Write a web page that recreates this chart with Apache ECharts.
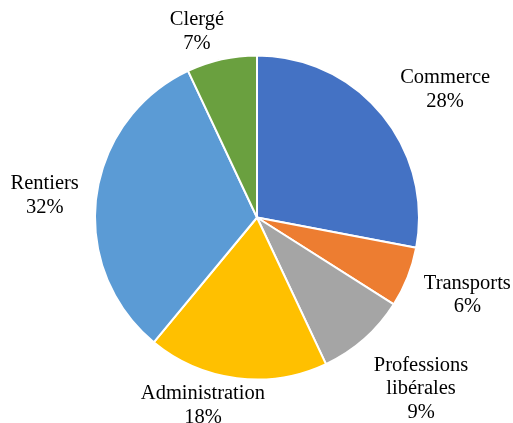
<!DOCTYPE html>
<html>
<head>
<meta charset="utf-8">
<script src="https://cdn.jsdelivr.net/npm/echarts@6/dist/echarts.min.js"></script>
<style>html,body{margin:0;padding:0;background:#fff}#c{width:513px;height:423px}</style>
</head>
<body>
<div id="c"></div>
<script>
const categories = ['Commerce', 'Transports', 'Professions\nlibérales', 'Administration', 'Rentiers', 'Clergé'];
const values = [28, 6, 9, 18, 32, 7];
const colors = ['#4472C4', '#ED7D31', '#A5A5A5', '#FFC000', '#5B9BD5', '#6AA03F'];
const labelDist = [64, 61, 74, 30, 51, 31];
const labelShift = [[14, 16], [3, -4.5], [8, -5.5], [-30, -2.5], [-1, 5], [-18, 2.5]];

const chart = echarts.init(document.getElementById('c'), null, {renderer: 'canvas'});
chart.setOption({
  animation: false,
  series: [{
    type: 'pie',
    center: [257, 217.5],
    radius: [0, 162],
    startAngle: 90,
    clockwise: true,
    avoidLabelOverlap: false,
    itemStyle: {borderColor: '#fff', borderWidth: 2},
    label: {
      show: true,
      position: 'outside',
      distanceToLabelLine: 0,
      formatter: p => p.name + '\n' + p.value + '%',
      fontFamily: '"Liberation Serif", "Times New Roman", serif',
      fontSize: 20.5,
      lineHeight: 23.5,
      color: '#000'
    },
    labelLine: {show: false, length: 58, length2: 0},
    labelLayout: function (p) {
      return {align: 'center', dx: labelShift[p.dataIndex][0], dy: labelShift[p.dataIndex][1]};
    },
    data: categories.map((c, i) => ({
      name: c, value: values[i],
      itemStyle: {color: colors[i]},
      labelLine: {length: labelDist[i], length2: 0}
    }))
  }]
});
</script>
</body>
</html>
